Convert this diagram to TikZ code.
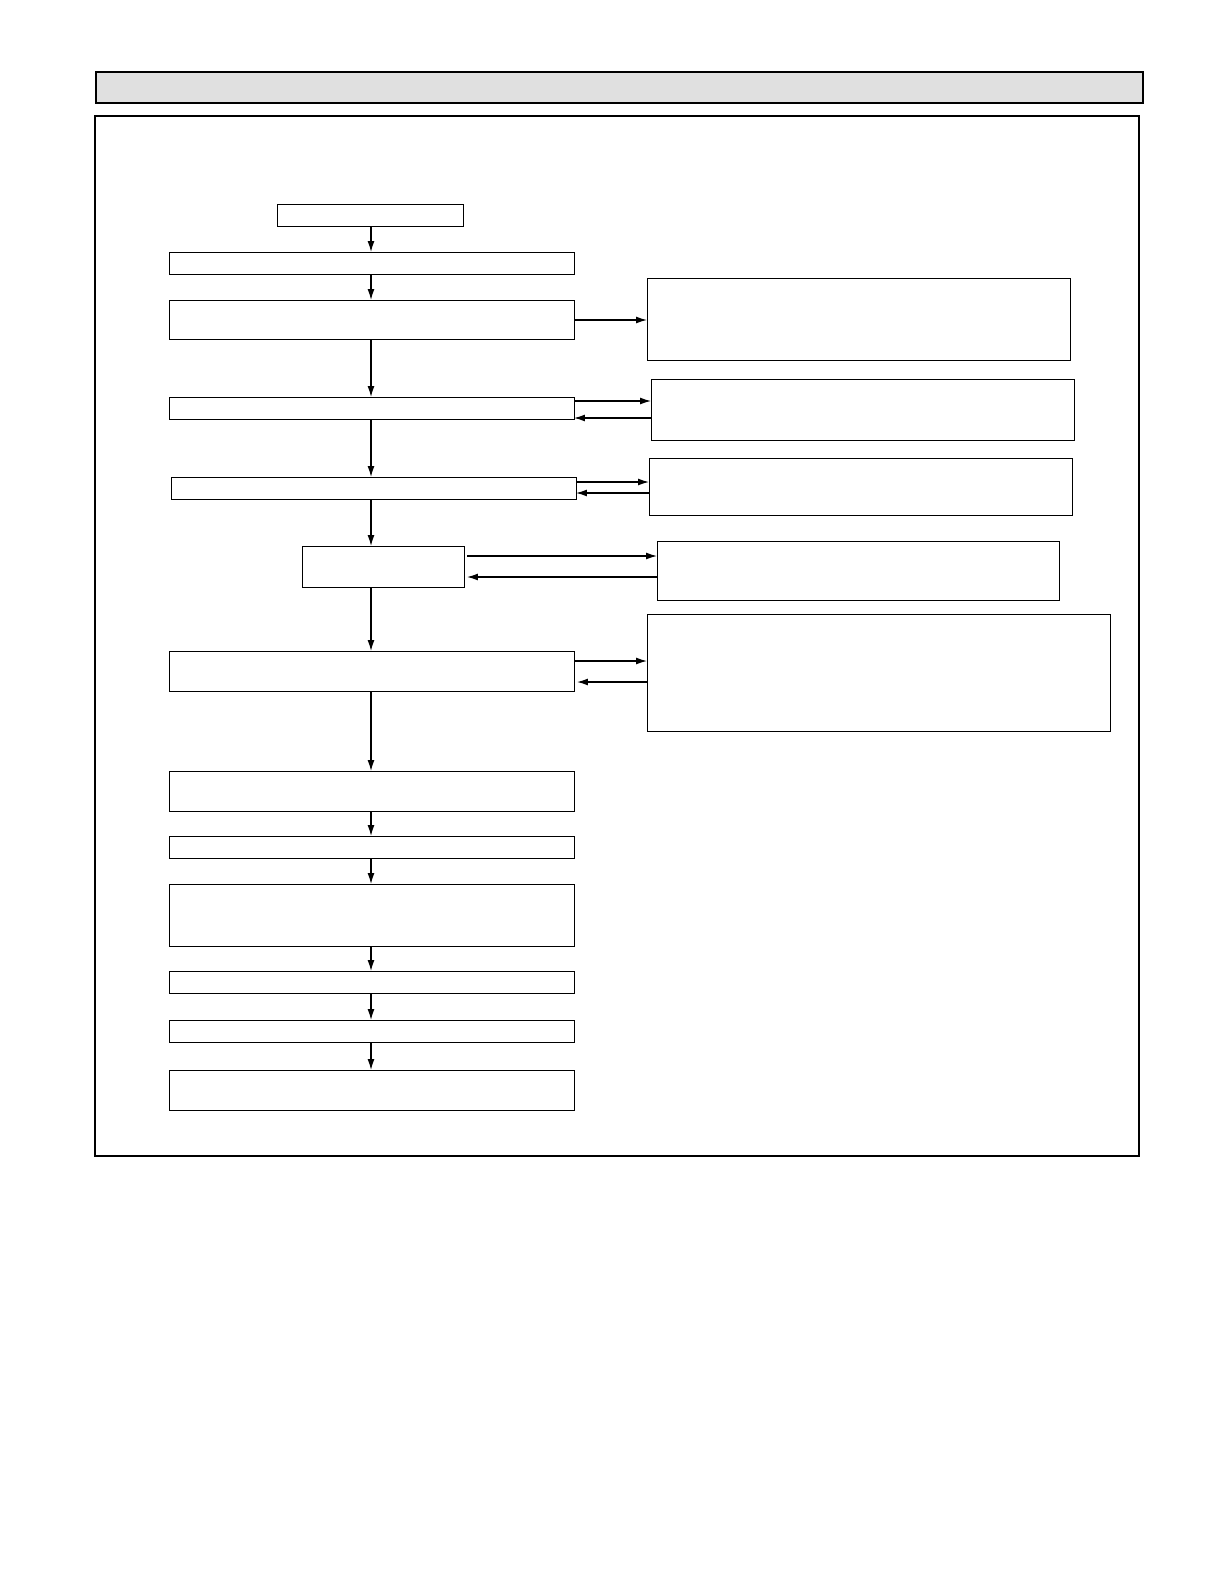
\documentclass[tikz,border=0pt]{standalone}
\usetikzlibrary{arrows.meta}
\begin{document}
\begin{tikzpicture}[x=1bp,y=-1bp,
  bx/.style={draw,line width=1.3pt,inner sep=0pt,rectangle,anchor=north west},
  ar/.style={-{Latex[length=11pt,width=7pt]},line width=1.3pt}]
\newcommand{\bx}[5]{\node[bx,minimum width={(#4-#2)*1bp},minimum height={(#5-#3)*1bp}] (#1) at (#2,#3) {};}
\fill[fill={rgb,255:red,224;green,224;blue,224},draw=black,line width=1.3pt] (96,72) rectangle (1143,103);
\draw[line width=1.8pt] (95,116) rectangle (1139,1156);
\bx{b0}{277}{204}{463}{226}
\bx{b1}{169}{252}{574}{274}
\bx{b2}{169}{300}{574}{339}
\bx{r2}{647}{278}{1070}{360}
\bx{b3}{169}{397}{574}{419}
\bx{r3}{651}{379}{1074}{440}
\bx{b4}{171}{477}{576}{499}
\bx{r4}{649}{458}{1072}{515}
\bx{b5}{302}{546}{464}{587}
\bx{r5}{657}{541}{1059}{600}
\bx{b6}{169}{651}{574}{691}
\bx{r6}{647}{614}{1110}{731}
\bx{b7}{169}{771}{574}{811}
\bx{b8}{169}{836}{574}{858}
\bx{b9}{169}{884}{574}{946}
\bx{b10}{169}{971}{574}{993}
\bx{b11}{169}{1020}{574}{1042}
\bx{b12}{169}{1070}{574}{1110}
\foreach \a/\b in {b0/b1,b1/b2,b2/b3,b3/b4,b4/b5,b5/b6,b6/b7,b7/b8,b8/b9,b9/b10,b10/b11,b11/b12}
  \draw[ar] (\a.south -| 371,0) -- (\b.north -| 371,0);
\draw[ar] (574,320) -- (647,320);
\draw[ar] (574,401) -- (651,401);
\draw[ar] (651,418) -- (574,418);
\draw[ar] (576,482) -- (649,482);
\draw[ar] (649,493) -- (576,493);
\draw[ar] (467,556) -- (657,556);
\draw[ar] (657,577) -- (467,577);
\draw[ar] (574,661) -- (647,661);
\draw[ar] (647,682) -- (577,682);
\pgfresetboundingbox
\useasboundingbox (0,0) rectangle (1224,1584);
\end{tikzpicture}
\end{document}
